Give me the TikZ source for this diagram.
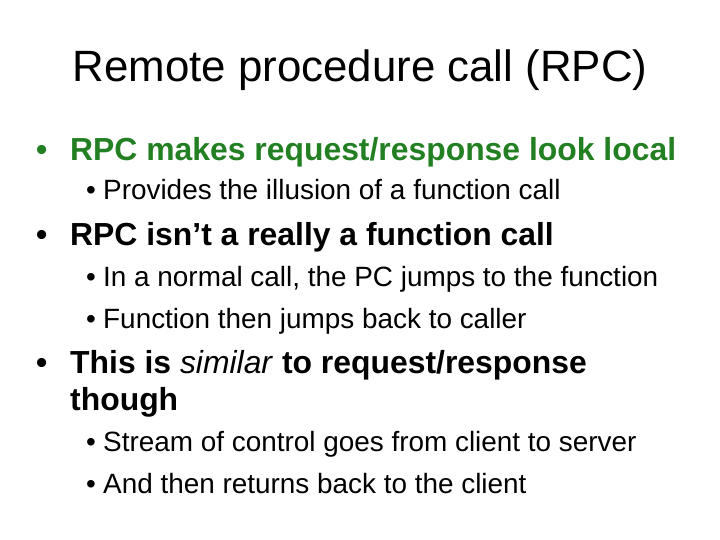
\documentclass[tikz,border=0pt]{standalone}
\usepackage{fontspec}
\setmainfont{Liberation Sans}
\definecolor{slidegreen}{RGB}{34,128,34}
\tikzset{
  title/.style={anchor=base, font=\fontsize{44}{52}\selectfont},
  bulletA/.style={anchor=base west, inner sep=0pt, font=\fontsize{32}{38}\selectfont\bfseries},
  bulletB/.style={anchor=base west, inner sep=0pt, font=\fontsize{28}{33}\selectfont}
}
\begin{document}
\begin{tikzpicture}[x=1bp,y=-1bp]
  \useasboundingbox[fill=white] (0,0) rectangle (720,540);

  \node[title] (ttl) at (360,82) {Remote procedure call (RPC)};

  % first bullet
  \node[bulletA, text=slidegreen] (b1d) at (36,161) {\textbullet};
  \node[bulletA, text=slidegreen] (b1) at (70,161) {RPC makes request/response look local};
  \node[bulletB] (s1d) at (86,200) {\textbullet};
  \node[bulletB] (s1) at (103,200) {Provides the illusion of a function call};

  % second bullet
  \node[bulletA] (b2d) at (36,246) {\textbullet};
  \node[bulletA] (b2) at (70,246) {RPC isn’t a really a function call};
  \node[bulletB] (s2d) at (86,287) {\textbullet};
  \node[bulletB] (s2) at (103,287) {In a normal call, the PC jumps to the function};
  \node[bulletB] (s3d) at (86,328) {\textbullet};
  \node[bulletB] (s3) at (103,328) {Function then jumps back to caller};

  % third bullet
  \node[bulletA] (b3d) at (36,373) {\textbullet};
  \node[bulletA] (b3) at (70,373) {This is \textit{\mdseries similar} to request/response};
  \node[bulletA] (b3b) at (70,410) {though};
  \node[bulletB] (s4d) at (86,451) {\textbullet};
  \node[bulletB] (s4) at (103,451) {Stream of control goes from client to server};
  \node[bulletB] (s5d) at (86,493) {\textbullet};
  \node[bulletB] (s5) at (103,493) {And then returns back to the client};
\end{tikzpicture}
\end{document}
